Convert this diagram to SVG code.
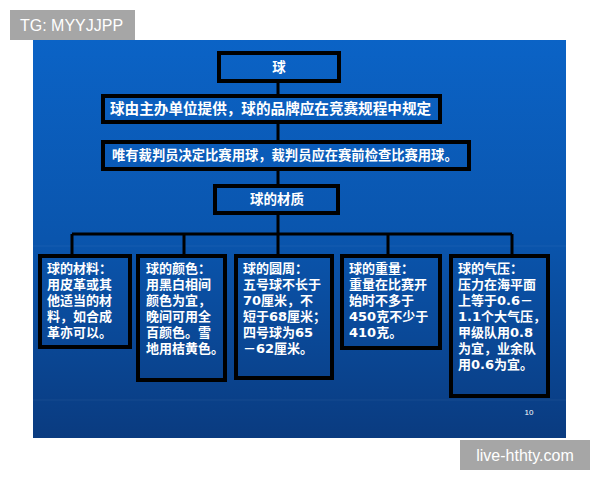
<svg xmlns="http://www.w3.org/2000/svg" width="600" height="480" viewBox="0 0 600 480">
<defs>
<linearGradient id="bg" x1="0" y1="0" x2="0" y2="1">
<stop offset="0" stop-color="#0b63c6"/>
<stop offset="0.5" stop-color="#0a55ad"/>
<stop offset="1" stop-color="#0a3b80"/>
</linearGradient>
<style>
.box{fill:none;stroke:#000;stroke-width:4}
.t{font-family:"DejaVu Sans","Noto Sans CJK SC",sans-serif;fill:#fff;font-weight:bold;font-size:13px}
.h{font-family:"Noto Sans CJK SC","DejaVu Sans",sans-serif;fill:#fff;font-weight:bold}
.c{text-anchor:middle}
.wm{font-family:"Liberation Sans",sans-serif;fill:#fff;font-size:16px}
#connectors path{fill:none;stroke:#000;stroke-width:3}
</style>
</defs>
<rect width="600" height="480" fill="#fff"/>
<rect x="33" y="40" width="533" height="398" fill="url(#bg)"/>
<g opacity="0.05" stroke="#fff" stroke-width="1">
<line x1="33" y1="246" x2="566" y2="246"/>
<line x1="33" y1="400" x2="566" y2="400"/>
</g>
<g id="connectors">
<path d="M278 81V96M278 122V142M278 169V186M278 213V234"/>
<path d="M72 234H512M72 234V256M184 234V256M278 234V256M388 234V256M512 234V256"/>
</g>
<g id="n-ball"><rect class="box" x="219" y="53" width="120" height="28"/><text class="h c" x="279" y="72" font-size="13.5">球</text></g>
<g id="n-supply"><rect class="box" x="103" y="96" width="337" height="26"/><text class="h" x="110" y="114" font-size="14.6">球由主办单位提供，球的品牌应在竞赛规程中规定</text></g>
<g id="n-referee"><rect class="box" x="103" y="142" width="366" height="27"/><text class="h" x="112" y="160" font-size="13.3">唯有裁判员决定比赛用球，裁判员应在赛前检查比赛用球。</text></g>
<g id="n-material"><rect class="box" x="215" y="186" width="123" height="27"/><text class="h c" x="277" y="204" font-size="13.5">球的材质</text></g>
<g id="n-mat"><rect class="box" x="40" y="256" width="90" height="91"/>
<text class="t" x="47" y="273">球的材料：</text>
<text class="t" x="47" y="289">用皮革或其</text>
<text class="t" x="47" y="305">他适当的材</text>
<text class="t" x="47" y="321">料，如合成</text>
<text class="t" x="47" y="337">革亦可以。</text></g>
<g id="n-color"><rect class="box" x="138" y="256" width="87" height="124"/>
<text class="t" x="146" y="273">球的颜色：</text>
<text class="t" x="146" y="289">用黑白相间</text>
<text class="t" x="146" y="305">颜色为宜，</text>
<text class="t" x="146" y="321">晚间可用全</text>
<text class="t" x="146" y="337">百颜色。雪</text>
<text class="t" x="146" y="353">地用桔黄色。</text></g>
<g id="n-circ"><rect class="box" x="236" y="256" width="96" height="122"/>
<text class="t" x="243" y="273">球的圆周：</text>
<text class="t" x="243" y="289">五号球不长于</text>
<text class="t" x="243" y="305">70厘米，不</text>
<text class="t" x="243" y="321">短于68厘米；</text>
<text class="t" x="243" y="337">四号球为65</text>
<text class="t" x="243" y="353">－62厘米。</text></g>
<g id="n-weight"><rect class="box" x="342" y="256" width="98" height="92"/>
<text class="t" x="349" y="273">球的重量：</text>
<text class="t" x="349" y="289">重量在比赛开</text>
<text class="t" x="349" y="305">始时不多于</text>
<text class="t" x="349" y="321">450克不少于</text>
<text class="t" x="349" y="337">410克。</text></g>
<g id="n-press"><rect class="box" x="451" y="256" width="97" height="140"/>
<text class="t" x="458" y="273">球的气压：</text>
<text class="t" x="458" y="289">压力在海平面</text>
<text class="t" x="458" y="305">上等于0.6－</text>
<text class="t" x="458" y="321">1.1个大气压，</text>
<text class="t" x="458" y="337">甲级队用0.8</text>
<text class="t" x="458" y="353">为宜，业余队</text>
<text class="t" x="458" y="369">用0.6为宜。</text></g>
<text x="529" y="415" font-family="Liberation Sans,sans-serif" font-size="8" fill="#fff" text-anchor="middle">10</text>
<rect x="10" y="10" width="125" height="30" fill="#a6a6a6"/>
<text class="wm" x="20" y="31">TG: MYYJJPP</text>
<rect x="460" y="440" width="130" height="30" fill="#a6a6a6"/>
<text class="wm" x="525" y="461" text-anchor="middle">live-hthty.com</text>
</svg>
